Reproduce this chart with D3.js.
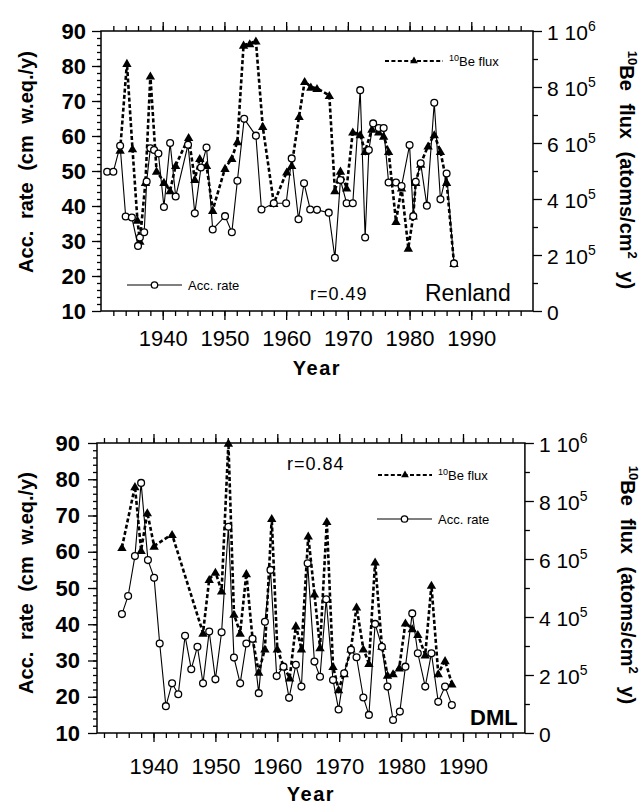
<!doctype html>
<html lang="en">
<head>
<meta charset="UTF-8">
<script src="https://d3js.org/d3.v7.min.js"></script>
<style>
body {
  margin: 0;
  background: #fff;
}
svg {
  font-family: "Liberation Sans", Arial, sans-serif;
}
.tick line {
  stroke: #000;
  stroke-width: 1.3px;
}
.frame {
  fill: none;
  stroke: #000;
  stroke-width: 1.5px;
}
.acc {
  fill: none;
  stroke: #000;
  stroke-width: 1.1px;
}
.flux {
  fill: none;
  stroke: #000;
  stroke-width: 2.6px;
  stroke-dasharray: 4,2.4;
}
.circ {
  fill: #fff;
  stroke: #000;
  stroke-width: 1.3px;
}
</style>
<title></title>
</head>
<body>
<div id="main"></div>

<script>
'use strict';

// Renland: accumulation rate (cm w.eq./y)
var renAccYear = [1931, 1932, 1933.1, 1934, 1935, 1936, 1936.3, 1937, 1937.4, 1938, 1938.6, 1939.3,
  1940.2, 1941.2, 1942.1, 1944.1, 1945.2, 1946.2, 1947.1, 1948.1, 1950.1, 1951.2, 1952.1, 1953.2,
  1955.1, 1956, 1958, 1960, 1960.9, 1962, 1962.9, 1963.9, 1965, 1966.9, 1967.9, 1968.8, 1969.8,
  1970.8, 1972, 1972.8, 1973.4, 1974.1, 1975, 1975.8, 1976.6, 1977.8, 1978.7, 1980, 1980.6, 1981,
  1981.8, 1982.8, 1984, 1985, 1986, 1987.2];
var renAcc = [49.8, 49.8, 57.2, 37, 36.7, 28.6, 31, 32.5, 47, 56.5, 56, 55,
  39.7, 58, 42.7, 57.5, 37.9, 51, 56.7, 33.3, 37.1, 32.5, 47.2, 64.9,
  60.1, 39, 40.8, 40.8, 53.6, 36.2, 46.5, 39, 38.9, 38.1, 25.2, 47.4, 40.8,
  40.8, 73.1, 31, 56, 63.6, 62.3, 62.3, 46.7, 46.7, 45.7, 57.4, 37.1, 46.9,
  52.2, 40.1, 69.5, 41.9, 49.3, 23.6];

// Renland: 10Be flux (10^5 atoms/cm2 y)
var renFluxYear = [1933.1, 1934.2, 1935.1, 1935.9, 1936.3, 1937.2, 1938, 1939, 1940.2, 1941.2, 1942.1,
  1944.2, 1945.2, 1946, 1947.1, 1948.1, 1950.1, 1951.2, 1952.1, 1953.1, 1954.1, 1955.1, 1956.2, 1958,
  1960.1, 1960.9, 1962.1, 1963, 1964, 1965, 1967, 1967.9, 1968.8, 1969.8, 1970.8, 1972, 1972.8,
  1973.9, 1975, 1975.8, 1976.6, 1977.8, 1978.7, 1979.8, 1980.6, 1981, 1981.8, 1983, 1984, 1985,
  1986, 1987.2];
var renFlux = [5.75, 8.85, 5.8, 3.25, 2.5, 4.6, 8.4, 5.0, 4.6, 4.3, 5.2,
  6.2, 4.7, 5.45, 5.2, 3.6, 5.1, 5.45, 6.05, 9.5, 9.55, 9.65, 6.6, 3.85,
  4.97, 5.2, 6.95, 8.2, 8.0, 7.95, 7.7, 4.3, 5.0, 4.4, 6.4, 6.3, 5.7,
  6.5, 6.4, 6.25, 5.7, 3.2, 4.4, 2.25, 3.4, 4.6, 5.25, 5.9, 6.3, 5.7,
  4.6, 1.7];

// DML: accumulation rate
var dmlAccYear = [1934.9, 1935.9, 1937, 1938, 1939.1, 1940.1, 1941, 1942, 1943, 1944, 1945.1, 1946.1,
  1947.1, 1948, 1949, 1950, 1951, 1952.1, 1953, 1954, 1955, 1956, 1957, 1958, 1958.9, 1959.9, 1961,
  1961.9, 1963, 1963.9, 1964.9, 1966, 1966.9, 1967.9, 1969, 1969.9, 1970.8, 1971.9, 1972.8, 1973.9,
  1974.8, 1975.8, 1976.9, 1977.8, 1978.7, 1979.8, 1980.7, 1981.8, 1982.7, 1983.9, 1984.9, 1986,
  1987.1, 1988.2];
var dmlAcc = [42.8, 47.8, 58.8, 79, 57.7, 52.8, 34.7, 17.4, 23.7, 20.7, 36.8, 27.6,
  33.8, 23.7, 38, 24.8, 37.8, 66.9, 30.8, 23.7, 34.7, 36, 21, 40.7, 55, 25.7, 28.3,
  19.7, 28.8, 22.8, 56.8, 29.7, 25.5, 46.9, 24.6, 16.5, 26.5, 33, 30.9, 19.8,
  15, 40.1, 33.8, 22.8, 13.6, 15.9, 28.3, 43, 32, 22.8, 32, 18.6,
  22.8, 17.7];

// DML: 10Be flux (10^5 atoms/cm2 y)
var dmlFluxYear = [1934.9, 1937, 1938, 1939, 1940.1, 1943, 1948, 1949, 1950, 1951, 1952.1, 1953, 1954,
  1955, 1956, 1957, 1958, 1959.1, 1960, 1961, 1962, 1963, 1963.9, 1965, 1966, 1966.9, 1968, 1969,
  1969.9, 1970.8, 1971.9, 1972.8, 1973.9, 1974.8, 1975.8, 1976.9, 1977.8, 1978.7, 1979.7, 1980.7,
  1981.8, 1982.7, 1983.9, 1984.9, 1986, 1987.1, 1988.2];
var dmlFlux = [6.4, 8.5, 6.3, 7.6, 6.45, 6.85, 3.45, 5.3, 5.55, 4.9, 10, 4.1, 3.45,
  5.5, 3.25, 2.1, 2.9, 7.4, 2.9, 2.3, 1.9, 3.7, 2.9, 6.8, 4.8, 2.95, 7.3, 2.3,
  1.5, 2.05, 2.9, 4.35, 2.9, 2.4, 5.9, 3.0, 2.0, 2.05, 2.25, 3.8,
  3.6, 3.4, 2.7, 5.1, 2.05, 2.5, 1.7];

var xTickYears = [1940, 1950, 1960, 1970, 1980, 1990];
var leftTicks = [10, 20, 30, 40, 50, 60, 70, 80, 90];
var rightTicks = [0, 2e5, 4e5, 6e5, 8e5, 1e6];
var rightTickLabels = [["0", ""], ["2 10", "5"], ["4 10", "5"], ["6 10", "5"], ["8 10", "5"], ["1 10", "6"]];

var svg = d3.select("#main").append("svg")
  .attr("width", 642)
  .attr("height", 806);

function zip(xs, ys) {
  return xs.map(function(d, i) { return [d, ys[i]]; });
}

function drawPanel(cfg) {
  var x = d3.scaleLinear().domain([1930, 2000]).range(cfg.xr),
      y = d3.scaleLinear().domain([10, 90]).range([cfg.bottom, cfg.top]),
      yR = d3.scaleLinear().domain([0, 1e6]).range([cfg.bottom, cfg.top]);

  var g = svg.append("g");
  var left = cfg.left, right = x(2000);

  // minor ticks (outward)
  var minorYears = d3.range(1932, 2000, 2).filter(function(d) { return x(d) > left + 1; });
  g.append("g").attr("transform", "translate(0," + cfg.bottom + ")")
    .call(d3.axisBottom(x).tickValues(minorYears).tickSize(5).tickFormat(""));
  g.append("g").attr("transform", "translate(0," + cfg.top + ")")
    .call(d3.axisTop(x).tickValues(minorYears).tickSize(5).tickFormat(""));
  g.append("g").attr("transform", "translate(" + left + ",0)")
    .call(d3.axisLeft(y).tickValues(d3.range(12, 90, 2)).tickSize(4).tickFormat(""));
  g.append("g").attr("transform", "translate(" + right + ",0)")
    .call(d3.axisRight(yR).tickValues(d3.range(1e5, 1e6, 2e5)).tickSize(5).tickFormat(""));

  // major ticks
  var xb = g.append("g").attr("transform", "translate(0," + cfg.bottom + ")")
    .call(d3.axisBottom(x).tickValues(xTickYears).tickSize(9).tickPadding(cfg.xPad).tickFormat(d3.format("d")));
  xb.selectAll("text").style("font-size", "22px").attr("fill", "#000");
  g.append("g").attr("transform", "translate(0," + cfg.top + ")")
    .call(d3.axisTop(x).tickValues(xTickYears).tickSize(9).tickFormat(""));

  var yl = g.append("g").attr("transform", "translate(" + left + ",0)")
    .call(d3.axisLeft(y).tickValues(leftTicks).tickSize(9).tickPadding(cfg.yPad));
  yl.selectAll("text").style("font-size", "22px").style("font-weight", "bold").attr("fill", "#000");

  var yr = g.append("g").attr("transform", "translate(" + right + ",0)")
    .call(d3.axisRight(yR).tickValues(rightTicks).tickSize(9).tickPadding(5).tickFormat(""));
  yr.selectAll(".tick text").each(function(d, i) {
    var t = d3.select(this).attr("dy", null).attr("y", 8).attr("fill", "#000").style("font-size", "21px");
    t.append("tspan").text(rightTickLabels[i][0]);
    t.append("tspan").attr("dy", -9).style("font-size", "14px").text(rightTickLabels[i][1]);
  });

  g.selectAll(".domain").remove();

  g.append("rect").attr("class", "frame")
    .attr("x", left).attr("y", cfg.top)
    .attr("width", right - left).attr("height", cfg.bottom - cfg.top);

  // series
  var lineAcc = d3.line().x(function(d) { return x(d[0]); }).y(function(d) { return y(d[1]); });
  var lineFlux = d3.line().x(function(d) { return x(d[0]); }).y(function(d) { return yR(d[1] * 1e5); });

  var fluxData = zip(cfg.fluxYear, cfg.flux),
      accData = zip(cfg.accYear, cfg.acc);

  g.append("path").datum(fluxData).attr("class", "flux").attr("d", lineFlux);
  g.append("path").datum(accData).attr("class", "acc").attr("d", lineAcc);

  var tri = d3.symbol().type(d3.symbolTriangle).size(38);
  g.selectAll(".tri").data(fluxData).enter().append("path")
    .attr("class", "tri")
    .attr("d", tri)
    .attr("fill", "#000")
    .attr("transform", function(d) { return "translate(" + x(d[0]) + "," + (yR(d[1] * 1e5) + 1) + ")"; });

  g.selectAll(".circ").data(accData).enter().append("circle")
    .attr("class", "circ")
    .attr("cx", function(d) { return x(d[0]); })
    .attr("cy", function(d) { return y(d[1]); })
    .attr("r", 3.4);

  // axis titles
  svg.append("text")
    .attr("transform", "translate(" + cfg.ltx + "," + cfg.lty + ") rotate(-90)")
    .attr("text-anchor", "middle")
    .style("font-size", "20px").style("font-weight", "bold").style("word-spacing", "6px")
    .text("Acc. rate (cm w.eq./y)");

  var rt = svg.append("text")
    .attr("transform", "translate(" + cfg.rtx + "," + cfg.rty + ") rotate(90)")
    .attr("text-anchor", "middle")
    .style("font-size", "20px").style("font-weight", "bold").style("word-spacing", "7px");
  rt.append("tspan").attr("dy", -8).style("font-size", "13px").text("10");
  rt.append("tspan").attr("dy", 8).text("Be flux (atoms/cm");
  rt.append("tspan").attr("dy", -8).style("font-size", "13px").text("2");
  rt.append("tspan").attr("dy", 8).text(" y)");

  svg.append("text")
    .attr("x", (left + right) / 2).attr("y", cfg.bottom + cfg.yearDy)
    .attr("text-anchor", "middle")
    .style("font-size", "20px").style("font-weight", "bold").style("letter-spacing", "1.5px")
    .text("Year");

  return {x: x, y: y, yR: yR, g: g};
}

function legendFlux(g, x0, x1, yy) {
  g.append("line").attr("class", "flux").attr("x1", x0).attr("x2", x1).attr("y1", yy).attr("y2", yy)
    .style("stroke-width", "2.2px");
  g.append("path").attr("d", d3.symbol().type(d3.symbolTriangle).size(26))
    .attr("transform", "translate(" + ((x0 + x1) / 2) + "," + yy + ")");
  var t = g.append("text").attr("x", x1 + 6).attr("y", yy + 5).style("font-size", "13px");
  t.append("tspan").attr("dy", -5).style("font-size", "9px").text("10");
  t.append("tspan").attr("dy", 5).text("Be flux");
}

function legendAcc(g, x0, x1, yy) {
  g.append("line").attr("class", "acc").attr("x1", x0).attr("x2", x1).attr("y1", yy).attr("y2", yy);
  g.append("circle").attr("class", "circ").attr("cx", (x0 + x1) / 2).attr("cy", yy).attr("r", 3.2);
  g.append("text").attr("x", x1 + 6).attr("y", yy + 5).style("font-size", "13px").text("Acc. rate");
}

// top panel: Renland
var p1 = drawPanel({
  xr: [101, 533], left: 101, top: 31, bottom: 311,
  accYear: renAccYear, acc: renAcc, fluxYear: renFluxYear, flux: renFlux,
  xPad: 10, yPad: 6, ltx: 33, lty: 162, rtx: 620, rty: 170, yearDy: 64
});
legendAcc(p1.g, 127, 182, 285);
legendFlux(p1.g, 385, 443, 61);
p1.g.append("text").attr("x", 310).attr("y", 300).style("font-size", "18px").style("letter-spacing", "1px").text("r=0.49");
p1.g.append("text").attr("x", 425).attr("y", 301).style("font-size", "23px").text("Renland");

// bottom panel: DML
var p2 = drawPanel({
  xr: [91.6, 524.9], left: 97, top: 443, bottom: 733,
  accYear: dmlAccYear, acc: dmlAcc, fluxYear: dmlFluxYear, flux: dmlFlux,
  xPad: 16, yPad: 8, ltx: 33, lty: 583, rtx: 621, rty: 585, yearDy: 68
});
legendFlux(p2.g, 378, 432, 475);
legendAcc(p2.g, 377, 432, 519);
p2.g.append("text").attr("x", 287).attr("y", 470).style("font-size", "18px").style("letter-spacing", "1px").text("r=0.84");
p2.g.append("text").attr("x", 470).attr("y", 725).style("font-size", "22px").style("font-weight", "bold").text("DML");
</script>
</body>
</html>
